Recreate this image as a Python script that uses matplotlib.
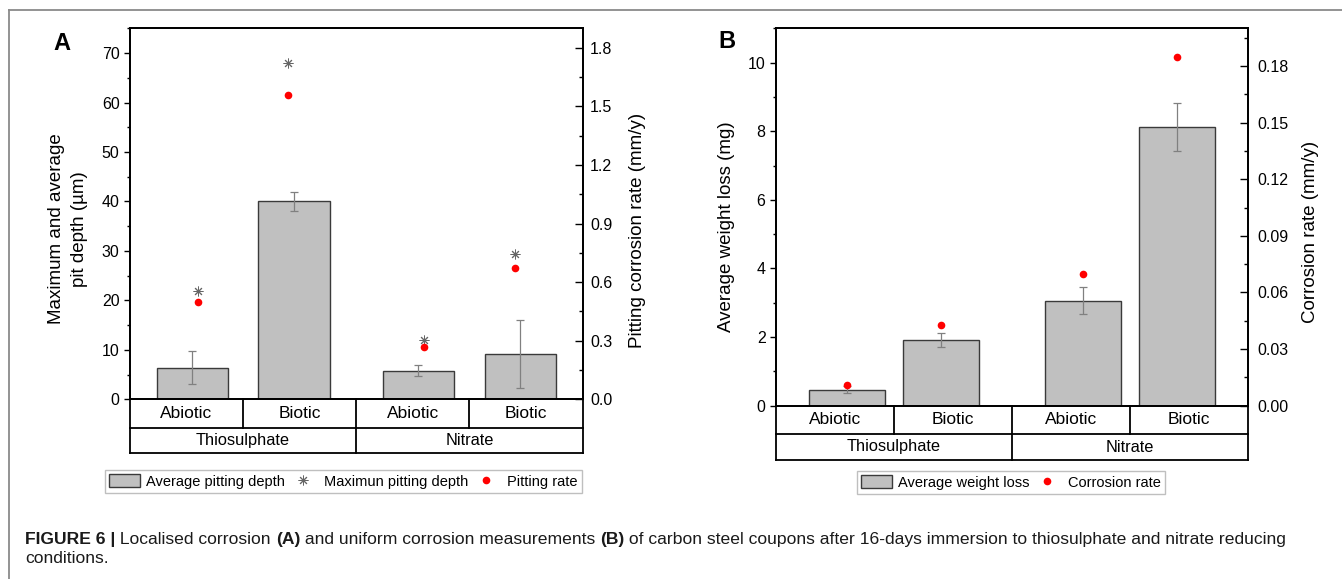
import matplotlib.pyplot as plt
from matplotlib.ticker import MultipleLocator, FormatStrFormatter
from matplotlib.lines import Line2D
from matplotlib.patches import Patch

plt.rcParams['font.family'] = ['Liberation Sans', 'DejaVu Sans']

# ---- data ----
categories = ['Abiotic', 'Biotic', 'Abiotic', 'Biotic']
groups = ['Thiosulphate', 'Nitrate']

# panel A: localised corrosion
avg_pit_depth = [6.4, 40.0, 5.8, 9.1]      # um
avg_pit_err = [3.3, 1.9, 1.15, 6.9]
max_pit_depth = [21.9, 67.9, 12.0, 29.4]   # um
pit_rate = [0.50, 1.56, 0.27, 0.67]        # mm/y

# panel B: uniform corrosion
weight_loss = [0.47, 1.91, 3.06, 8.12]     # mg
weight_err = [0.10, 0.21, 0.40, 0.70]
corr_rate = [0.011, 0.043, 0.070, 0.185]   # mm/y

W, H = 1342, 579
fig = plt.figure(figsize=(W / 100, H / 100), dpi=100)


def px_axes(l, t, r, b):
    return fig.add_axes([l / W, 1 - b / H, (r - l) / W, (b - t) / H])


def style_axes(ax, ax2, rpad):
    for a in (ax, ax2):
        for s in a.spines.values():
            s.set_linewidth(1.3)
    ax.set_xlim(0, 4)
    ax.set_xticks([])
    ax.tick_params(axis='y', which='major', direction='out', length=4, width=1, labelsize=11.5, pad=3.5)
    ax.tick_params(axis='y', which='minor', direction='out', length=2, width=1)
    ax2.tick_params(axis='y', which='major', direction='in', length=5.5, width=1, labelsize=11.5, pad=rpad)
    ax2.tick_params(axis='y', which='minor', direction='in', length=2.7, width=1)


def draw_table(ax, bottom_px, row1_px, row2_px):
    # category table under the axes, drawn in (data x, axes y)
    h = ax.get_position().height * H
    r1 = -(row1_px - bottom_px) / h
    r2 = -(row2_px - bottom_px) / h
    tr = ax.get_xaxis_transform()
    kw = dict(color='black', lw=1.3, transform=tr, clip_on=False)
    ax.add_line(Line2D([0, 4], [r1, r1], **kw))
    ax.add_line(Line2D([0, 4], [r2, r2], **kw))
    for x in (0, 2, 4):
        ax.add_line(Line2D([x, x], [0, r2], **kw))
    for x in (1, 3):
        ax.add_line(Line2D([x, x], [0, r1], **kw))
    for i, c in enumerate(categories):
        ax.text(i + 0.5, r1 / 2, c, transform=tr, ha='center', va='center', fontsize=12.5)
    for i, g in enumerate(groups):
        ax.text(2 * i + 1, (r1 + r2) / 2, g, transform=tr, ha='center', va='center', fontsize=11.8)


bar_kw = dict(color='#c0c0c0', edgecolor='#3a3a3a', linewidth=1.0, zorder=2)
err_kw = dict(ecolor='#808080', elinewidth=0.9, capsize=2.8, capthick=0.9)
star_kw = dict(linestyle='none', marker=(8, 2, 0), markersize=7, markeredgewidth=0.7,
               color='#666666', zorder=4)
dot_kw = dict(linestyle='none', marker='o', markersize=5.5, color='red', markeredgewidth=0, zorder=5)

# ---------------- panel A ----------------
bar_x_a = [0.55, 1.45, 2.55, 3.45]
mark_x_a = [0.6, 1.4, 2.6, 3.4]
axA = px_axes(130, 28.3, 582.5, 399.3)
axA2 = axA.twinx()
axA.bar(bar_x_a, avg_pit_depth, width=0.63, yerr=avg_pit_err, error_kw=err_kw, **bar_kw)
axA.plot(mark_x_a, max_pit_depth, **star_kw)
axA2.plot(mark_x_a, pit_rate, **dot_kw)
axA.set_ylim(0, 75)
axA2.set_ylim(0, 1.9)
axA.yaxis.set_major_locator(MultipleLocator(10))
axA.yaxis.set_minor_locator(MultipleLocator(5))
axA2.yaxis.set_major_locator(MultipleLocator(0.3))
axA2.yaxis.set_minor_locator(MultipleLocator(0.15))
axA2.yaxis.set_major_formatter(FormatStrFormatter('%.1f'))
style_axes(axA, axA2, 5.5)
axA.set_ylabel('Maximum and average\npit depth (\u00b5m)', fontsize=13.5, linespacing=1.45)
axA.yaxis.label.set_va('center')
axA.yaxis.set_label_coords(-0.1375, 0.46)
axA2.set_ylabel('Pitting corrosion rate (mm/y)', fontsize=13.5)
axA2.yaxis.label.set_va('center')
axA2.yaxis.set_label_coords(1.1205, 0.455)
draw_table(axA, 399.3, 427.5, 453)
fig.text(62 / W, 1 - 43 / H, 'A', fontsize=17, fontweight='bold', ha='center', va='center')

handles_a = [Patch(facecolor='#c0c0c0', edgecolor='#3a3a3a', linewidth=1.0),
             Line2D([], [], **star_kw), Line2D([], [], **dot_kw)]
labels_a = ['Average pitting depth', 'Maximun pitting depth', 'Pitting rate']

# ---------------- panel B ----------------
bar_x_b = [0.6, 1.4, 2.6, 3.4]
axB = px_axes(776, 28.3, 1248, 405.7)
axB2 = axB.twinx()
axB.bar(bar_x_b, weight_loss, width=0.64, yerr=weight_err, error_kw=err_kw, **bar_kw)
axB2.plot(bar_x_b, corr_rate, **dot_kw)
axB.set_ylim(0, 11)
axB2.set_ylim(0, 0.2)
axB.yaxis.set_major_locator(MultipleLocator(2))
axB.yaxis.set_minor_locator(MultipleLocator(1))
axB2.yaxis.set_major_locator(MultipleLocator(0.03))
axB2.yaxis.set_minor_locator(MultipleLocator(0.015))
axB2.yaxis.set_major_formatter(FormatStrFormatter('%.2f'))
style_axes(axB, axB2, 6.5)
axB.set_ylabel('Average weight loss (mg)', fontsize=13.5)
axB.yaxis.label.set_va('center')
axB.yaxis.set_label_coords(-0.105, 0.4735)
axB2.set_ylabel('Corrosion rate (mm/y)', fontsize=13.5)
axB2.yaxis.label.set_va('center')
axB2.yaxis.set_label_coords(1.1324, 0.461)
draw_table(axB, 405.7, 434, 460)
fig.text(727 / W, 1 - 42 / H, 'B', fontsize=17, fontweight='bold', ha='center', va='center')

handles_b = [Patch(facecolor='#c0c0c0', edgecolor='#3a3a3a', linewidth=1.0),
             Line2D([], [], **dot_kw)]
labels_b = ['Average weight loss', 'Corrosion rate']

leg_kw = dict(loc='center', fontsize=10.5, frameon=True, fancybox=False, edgecolor='#b0b0b0',
              handlelength=2.1, handleheight=0.9, handletextpad=0.42, columnspacing=0.15,
              borderpad=0.3, borderaxespad=0)
legA = fig.legend(handles_a, labels_a, ncol=3, bbox_to_anchor=(343.5 / W, 1 - 481.5 / H), **leg_kw)
legB = fig.legend(handles_b, labels_b, ncol=2, bbox_to_anchor=(1011 / W, 1 - 482.5 / H), **leg_kw)
for leg in (legA, legB):
    leg.get_frame().set_linewidth(1.0)

# ---------------- frame lines and caption ----------------
fig.add_artist(Line2D([9 / W, 1], [1 - 10 / H, 1 - 10 / H], color='#8a8a8a', lw=1.3))
fig.add_artist(Line2D([9 / W, 9 / W], [0, 1 - 10 / H], color='#8a8a8a', lw=1.3))

line1 = [('FIGURE 6 |', True), (' Localised corrosion ', False), ('(A)', True),
         (' and uniform corrosion measurements ', False), ('(B)', True),
         (' of carbon steel coupons after 16-days immersion to thiosulphate and nitrate reducing', False)]
line2 = [('conditions.', False)]

renderer = fig.canvas.get_renderer()


def rich_line(parts, x_px, y_px, size):
    x = x_px
    for s, bold in parts:
        t = fig.text(x / W, 1 - y_px / H, s, fontsize=size, va='baseline', ha='left',
                     fontweight='bold' if bold else 'normal', color='#1a1a1a')
        x += t.get_window_extent(renderer=renderer).width
    return x - x_px


# fit caption width to the reference span (x 25 -> 1280)
cap_size = 11.0
probe = rich_line(line1, 25, -100, cap_size)
for t in fig.texts[-len(line1):]:
    t.remove()
cap_size = cap_size * 1255 / probe
rich_line(line1, 25, 544, cap_size)
rich_line(line2, 25, 563, cap_size)

fig.savefig('out.png', dpi=100)
